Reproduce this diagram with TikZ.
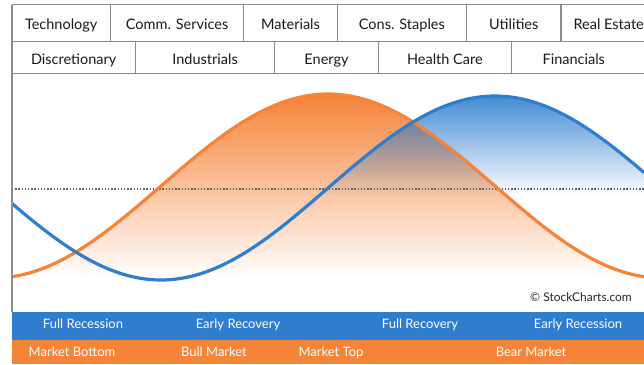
\documentclass[tikz,border=0pt]{standalone}
\usepackage{fontspec}
\setmainfont{Lato}
\usetikzlibrary{positioning}
\usetikzlibrary{fadings}
\definecolor{scblue}{RGB}{46,125,207}
\definecolor{scorange}{RGB}{245,131,56}
\definecolor{gridgray}{RGB}{140,140,140}
\definecolor{dotgray}{RGB}{95,95,95}
\tikzfading[name=fadedown, top color=transparent!10, bottom color=transparent!100]
\tikzset{
  sector/.style={minimum height=37pt, inner sep=0pt, text height=15pt, text depth=1.5pt,
    text=black!90, font=\fontsize{14.5}{16}\selectfont},
  sectorb/.style={sector, minimum height=31.5pt},
  grid/.style={gridgray, line width=1.1pt},
  phase/.style={text=white, inner sep=0pt, text height=9.5pt, text depth=2.5pt,
    font=\fontsize{13}{15}\selectfont},
  wave/.style={line width=3.2pt, smooth, samples=120},
}

\begin{document}
\begin{tikzpicture}[x=1pt,y=-1pt]
      \useasboundingbox (0,0) rectangle (644,364);
      % shaded humps
      \shade[top color=scorange, bottom color=white]
        plot[domain=12:644, smooth, samples=120] (\x,{186-92*sin(0.5389*(\x-161))})
        -- (644,278) -- (12,278) -- cycle;
      \fill[scblue, path fading=fadedown]
        plot[domain=319:644, smooth, samples=90] (\x,{188-92*sin(0.5389*(\x-328))})
        -- (644,196) -- (319,196) -- cycle;
      \draw[dotgray, line width=1.4pt, dash pattern=on 1.4pt off 1.8pt] (12,189) -- (644,189);
      % the two cycles
      \draw[scorange, wave] plot[domain=12:644] (\x,{186-92*sin(0.5389*(\x-161))});
      \draw[scblue, wave] plot[domain=12:644] (\x,{188-92*sin(0.5389*(\x-328))});
      % bands
      \fill[scblue] (12,312) rectangle (644,340);
      \fill[scorange] (12,340) rectangle (644,364);
      % sector rows
      \node[sector, minimum width=98pt, anchor=north west] (tech) at (12,4.5) {Technology};
      \node[sector, minimum width=133pt, right=0pt of tech] (comm) {Comm. Services};
      \node[sector, minimum width=93pt, right=0pt of comm] (mat) {Materials};
      \node[sector, minimum width=129pt, right=0pt of mat] (cons) {Cons. Staples};
      \node[sector, minimum width=94pt, right=0pt of cons] (util) {Utilities};
      \node[sector, minimum width=95pt, right=0pt of util] (real) {Real Estate};
      \node[sectorb, minimum width=123pt, anchor=north west] (disc) at (tech.south west) {Discretionary};
      \node[sectorb, minimum width=139pt, right=0pt of disc] (ind) {Industrials};
      \node[sectorb, minimum width=103pt, right=0pt of ind] (energy) {Energy};
      \node[sectorb, minimum width=133pt, right=0pt of energy] (health) {Health Care};
      \node[sectorb, minimum width=124pt, right=0pt of health] (fin) {Financials};
      \draw[grid] (tech.north west) -- (real.north east);
      \draw[grid] (tech.south west) -- (real.south east);
      \draw[grid] (disc.south west) -- (disc.south west -| real.east);
      \draw[grid] (tech.north west) -- (12,312);
      \foreach \c in {tech,comm,mat,cons,util}
        \draw[grid] (\c.north east) -- (\c.south east);
      \foreach \c in {disc,ind,energy,health}
        \draw[grid] (\c.north east) -- (\c.south east);
      % phases
      \node[phase] (fullrec) at (83,325) {Full Recession};
      \node[phase] (earlyrec) at (238,325) {Early Recovery};
      \node[phase] (fullrecov) at (420,325) {Full Recovery};
      \node[phase] (earlyress) at (578,325) {Early Recession};
      \node[phase] (bottom) at (72,353) {Market Bottom};
      \node[phase] (bull) at (214,353) {Bull Market};
      \node[phase] (top) at (331,353) {Market Top};
      \node[phase] (bear) at (531,353) {Bear Market};
      \node[text=black!85, font=\fontsize{12}{13}\selectfont] (copy) at (581,297) {© StockCharts.com};
    \end{tikzpicture}
\end{document}
